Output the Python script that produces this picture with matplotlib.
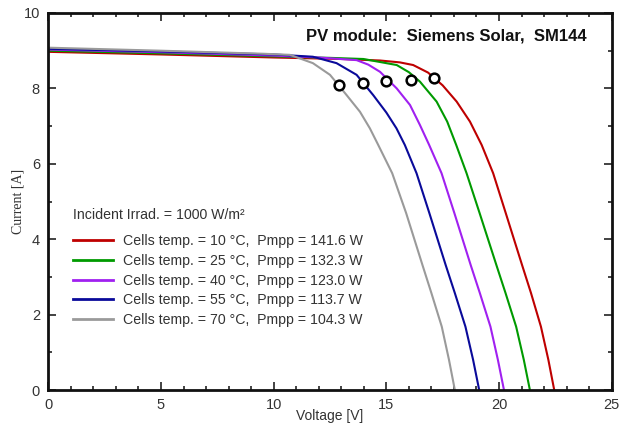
import matplotlib
matplotlib.use("Agg")
import matplotlib.pyplot as plt
from matplotlib.lines import Line2D
from matplotlib.ticker import MultipleLocator

plt.rcParams['font.family'] = ['Liberation Sans', 'DejaVu Sans']

# I-V curves of the module at 1000 W/m2 for five cell temperatures
v_10 = [0, 5, 10, 13, 14.72, 15.6, 16.19, 16.85, 17.5, 18.12, 18.71, 19.23, 19.74, 20.30, 21.02, 21.42, 21.86, 22.19, 22.45]
i_10 = [8.97, 8.90, 8.82, 8.78, 8.74, 8.69, 8.62, 8.42, 8.08, 7.65, 7.12, 6.50, 5.75, 4.69, 3.32, 2.57, 1.68, 0.80, 0.0]

v_25 = [0, 5, 10, 12.5, 13.98, 15.46, 16.0, 16.49, 17.23, 17.70, 18.10, 18.56, 19.14, 19.88, 20.29, 20.76, 21.10, 21.37]
i_25 = [9.00, 8.93, 8.85, 8.81, 8.78, 8.62, 8.43, 8.18, 7.65, 7.12, 6.50, 5.75, 4.69, 3.32, 2.57, 1.68, 0.80, 0.0]

v_40 = [0, 5, 10, 12, 13.68, 14.2, 14.72, 15.46, 16.05, 16.49, 16.90, 17.45, 18.02, 18.74, 19.15, 19.62, 19.95, 20.22]
i_40 = [9.03, 8.96, 8.87, 8.82, 8.75, 8.63, 8.44, 8.00, 7.56, 7.03, 6.50, 5.75, 4.69, 3.32, 2.57, 1.68, 0.80, 0.0]

v_55 = [0, 5, 10, 11.74, 12.79, 13.68, 14.42, 15.0, 15.45, 15.82, 16.34, 16.91, 17.63, 18.04, 18.51, 18.85, 19.12]
i_55 = [9.05, 8.98, 8.90, 8.84, 8.67, 8.36, 7.82, 7.36, 6.94, 6.50, 5.75, 4.69, 3.32, 2.57, 1.68, 0.80, 0.0]

v_70 = [0, 5, 9.5, 10.72, 11.74, 12.50, 13.24, 13.83, 14.27, 14.64, 15.26, 15.88, 16.60, 17.00, 17.46, 17.78, 18.04]
i_70 = [9.08, 9.00, 8.92, 8.89, 8.67, 8.36, 7.82, 7.38, 6.94, 6.50, 5.75, 4.69, 3.32, 2.57, 1.68, 0.80, 0.0]

temps = [10, 25, 40, 55, 70]
pmpp = [141.6, 132.3, 123.0, 113.7, 104.3]
v_mpp = [17.10, 16.10, 15.00, 13.95, 12.90]
i_mpp = [8.28, 8.22, 8.20, 8.15, 8.085]

colors = ['#BE0000', '#009A00', '#A020F0', '#0A0A9A', '#9A9A9A']
curves = [(v_10, i_10), (v_25, i_25), (v_40, i_40), (v_55, i_55), (v_70, i_70)]

fig = plt.figure(figsize=(6.26, 4.29), dpi=100)
ax = fig.add_axes([48.3 / 626, 1 - 390 / 429, (611.7 - 48.3) / 626, (390 - 13) / 429])

handles = []
labels = []
for (v, i), c, t, p in zip(curves, colors, temps, pmpp):
    ax.plot(v, i, color=c, lw=1.5, zorder=2, solid_joinstyle='round')
    handles.append(Line2D([0], [0], color=c, lw=2))
    labels.append(f"Cells temp. = {t} \u00b0C,  Pmpp = {p:.1f} W")

ax.plot(v_mpp, i_mpp, linestyle='none', marker='o', markersize=7,
        markerfacecolor='white', markeredgecolor='black', markeredgewidth=1.8, zorder=3)

ax.set_xlim(0, 25)
ax.set_ylim(0, 10)
ax.xaxis.set_major_locator(MultipleLocator(5))
ax.xaxis.set_minor_locator(MultipleLocator(1))
ax.yaxis.set_major_locator(MultipleLocator(2))
ax.yaxis.set_minor_locator(MultipleLocator(1))
ax.tick_params(which='both', direction='in', top=True, right=True, width=1.2, color='#222222')
ax.tick_params(which='major', length=6, labelsize=10.5, pad=6, labelcolor='#333333')
ax.tick_params(which='minor', length=3)
for s in ax.spines.values():
    s.set_linewidth(2)
    s.set_color('#111111')

ax.set_xlabel("Voltage [V]", fontsize=10, color='#333333', va='center')
ax.xaxis.set_label_coords(0.499, -0.069)
ax.set_ylabel("Current [A]", fontsize=10, color='#333333', va='center',
              family=['Liberation Serif', 'DejaVu Serif'])
ax.yaxis.set_label_coords(-0.054, 0.5)

ax.text(0.955, 0.938, "PV module:  Siemens Solar,  SM144", transform=ax.transAxes,
        ha='right', va='center', fontsize=12, fontweight='bold', color='#111111')

ax.text(0.0438, 0.464, "Incident Irrad. = 1000 W/m\u00b2", transform=ax.transAxes,
        ha='left', va='center', fontsize=10.2, color='#333333')

leg = ax.legend(handles, labels, loc='upper left', bbox_to_anchor=(0.0438, 0.413),
                frameon=False, fontsize=10.2, handlelength=2.8, handletextpad=0.7,
                labelspacing=0.4, borderaxespad=0, borderpad=0)
for txt in leg.get_texts():
    txt.set_color('#333333')

fig.savefig("out.png", dpi=100)
